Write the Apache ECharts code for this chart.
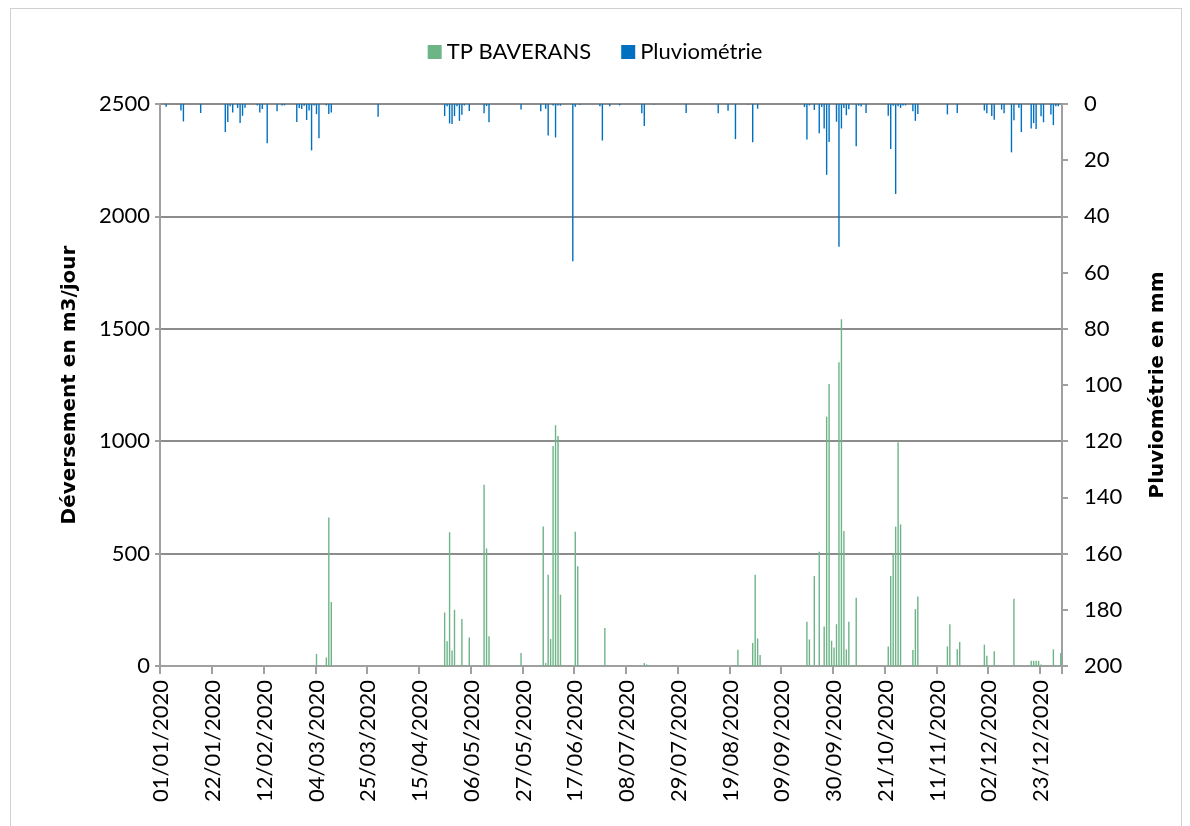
<!DOCTYPE html>
<html>
<head>
<meta charset="utf-8">
<script src="https://cdn.jsdelivr.net/npm/echarts@6/dist/echarts.min.js"></script>
<style>
  html, body { margin: 0; padding: 0; background: #fff; }
  #chart { width: 1190px; height: 826px; }
  #frame { position: absolute; left: 10px; top: 8px; width: 1170px; height: 840px; border: 1px solid #d0d0d0; pointer-events: none; }
</style>
</head>
<body>
<div id="chart"></div>
<div id="frame"></div>
<script>
// jours de l'année 2020 (index 0 = 01/01/2020)
const nbJours = 366

// déversement TP BAVERANS (m3/jour) : [jour, valeur]
const deversement = [
  [63, 54], [67, 38], [68, 661], [69, 285],
  [115, 238], [116, 110], [117, 595], [118, 69], [119, 250], [122, 209], [125, 127],
  [131, 806], [132, 523], [133, 132], [146, 58],
  [155, 620], [156, 13], [157, 406], [158, 120], [159, 979], [160, 1071], [161, 1023], [162, 317],
  [168, 597], [169, 444], [170, 5], [180, 169], [196, 13], [197, 7],
  [234, 72], [240, 102], [241, 406], [242, 122], [243, 49],
  [262, 197], [263, 118], [265, 400], [267, 508], [269, 176], [270, 1109], [271, 1255], [272, 112],
  [273, 82], [274, 186], [275, 1351], [276, 1543], [277, 600], [278, 74], [279, 197], [282, 304],
  [295, 87], [296, 400], [297, 497], [298, 620], [299, 995], [300, 630],
  [305, 71], [306, 253], [307, 309], [319, 87], [320, 186], [323, 74], [324, 107],
  [334, 95], [335, 46], [338, 66], [346, 299],
  [353, 23], [354, 23], [355, 23], [356, 23], [357, 7], [362, 74], [365, 58]
]

// pluviométrie (mm) : [jour, valeur]
const pluie = [
  [2, 1], [8, 2.3], [9, 6.2], [16, 3.2], [26, 10], [27, 6.4], [28, 0.8], [29, 3], [31, 1.4],
  [32, 6.8], [33, 4.2], [34, 1.3], [39, 0.5], [40, 3], [41, 1.8], [43, 14], [47, 2.6], [49, 0.5],
  [50, 0.5], [55, 6.4], [56, 1.4], [57, 1.8], [58, 0.6], [59, 5.7], [60, 2.3], [61, 16.5], [62, 0.5],
  [63, 3.6], [64, 12.2], [67, 0.5], [68, 3.6], [69, 3], [88, 4.5],
  [115, 4.3], [116, 0.8], [117, 6.9], [118, 7.1], [119, 4.3], [120, 0.8], [121, 6], [122, 3.8],
  [123, 0.5], [125, 2.5], [131, 3.3], [132, 0.7], [133, 6.5], [146, 2], [154, 2.6], [156, 1.7],
  [157, 11.2], [159, 0.5], [160, 11.9], [161, 0.5], [162, 0.6], [167, 56], [168, 1], [170, 0.3],
  [178, 0.8], [179, 13], [182, 0.8], [186, 0.5], [195, 3.3], [196, 7.8], [200, 0.2],
  [213, 3.2], [226, 3.3], [230, 2.4], [233, 12.5], [238, 0.2], [240, 13.6], [242, 1.7],
  [261, 1.1], [262, 12.6], [263, 0.5], [265, 2.1], [267, 10.4], [268, 1.1], [269, 8.7],
  [270, 25.2], [271, 13.5], [274, 6.3], [275, 50.8], [276, 8.7], [277, 1.4], [278, 4],
  [279, 1.9], [282, 15], [283, 0.6], [284, 0.9], [286, 3.2], [295, 4.2], [296, 16], [297, 0.6],
  [298, 32], [299, 0.8], [300, 1.4], [301, 0.5], [302, 0.5], [305, 2.6], [306, 6], [307, 3.6],
  [319, 3.7], [323, 3.2], [334, 2.3], [335, 3.3], [337, 4.3], [338, 5.6], [341, 2], [342, 3.3],
  [345, 17.2], [346, 5.8], [348, 1.3], [349, 10], [353, 8.7], [354, 6.8], [355, 8.9],
  [357, 4.4], [358, 6.5], [361, 3.7], [362, 7.5], [363, 0.8], [364, 0.8]
]

const pad = n => String(n).padStart(2, '0')
const dates = []
for (let i = 0; i < nbJours; i++) {
  const d = new Date(Date.UTC(2020, 0, 1 + i))
  dates.push(pad(d.getUTCDate()) + '/' + pad(d.getUTCMonth() + 1) + '/' + d.getUTCFullYear())
}

function toDaily(pairs) {
  const arr = new Array(nbJours).fill(0)
  pairs.forEach(([j, v]) => { arr[j] = v })
  return arr
}

const font = 'Lato, "Liberation Sans", sans-serif'
const titleFont = '"DejaVu Sans", Verdana, sans-serif'
const gridGray = '#8c8c8c'
const axisGray = '#a0a0a0'

const chart = echarts.init(document.getElementById('chart'))
chart.setOption({
  animation: false,
  backgroundColor: '#fff',
  textStyle: { fontFamily: font },
  legend: {
    top: 36,
    left: 'center',
    icon: 'rect',
    itemWidth: 14,
    itemHeight: 14,
    itemGap: 30,
    textStyle: { fontSize: 22, color: '#000', fontFamily: font }
  },
  grid: { left: 160, right: 128, top: 104, bottom: 160 },
  xAxis: {
    type: 'category',
    data: dates,
    boundaryGap: true,
    axisLine: { lineStyle: { color: axisGray, width: 2 } },
    axisTick: { show: true, interval: 20, length: 8, lineStyle: { color: axisGray, width: 2 } },
    axisLabel: { interval: 20, rotate: 90, margin: 14, fontSize: 22, color: '#000', fontFamily: font },
    splitLine: { show: false }
  },
  yAxis: [
    {
      type: 'value',
      min: 0,
      max: 2500,
      interval: 500,
      name: 'Déversement en m3/jour',
      nameLocation: 'middle',
      nameGap: 80,
      nameTextStyle: { fontSize: 20, fontWeight: 'bold', color: '#000', fontFamily: titleFont },
      axisLine: { show: true, lineStyle: { color: axisGray, width: 2 } },
      axisTick: { show: true, length: 5, lineStyle: { color: axisGray, width: 2 } },
      axisLabel: { fontSize: 22, color: '#000', margin: 10, fontFamily: font, formatter: v => String(v) },
      splitLine: { show: true, lineStyle: { color: gridGray, width: 2 } }
    },
    {
      type: 'value',
      position: 'right',
      inverse: true,
      min: 0,
      max: 200,
      interval: 20,
      name: 'Pluviométrie en mm',
      nameLocation: 'middle',
      nameGap: 86,
      nameTextStyle: { fontSize: 20, fontWeight: 'bold', color: '#000', fontFamily: titleFont },
      axisLine: { show: true, lineStyle: { color: axisGray, width: 2 } },
      axisTick: { show: true, length: 6, lineStyle: { color: axisGray, width: 2 } },
      axisLabel: { fontSize: 22, color: '#000', margin: 22, fontFamily: font, formatter: v => String(v) },
      splitLine: { show: false }
    }
  ],
  series: [
    {
      name: 'TP BAVERANS',
      type: 'bar',
      yAxisIndex: 0,
      barWidth: 1.4,
      barGap: '-100%',
      itemStyle: { color: '#6DB487' },
      data: toDaily(deversement)
    },
    {
      name: 'Pluviométrie',
      type: 'bar',
      yAxisIndex: 1,
      barWidth: 1.4,
      barGap: '-100%',
      itemStyle: { color: '#0070C0' },
      data: toDaily(pluie)
    }
  ]
})
</script>
</body>
</html>
